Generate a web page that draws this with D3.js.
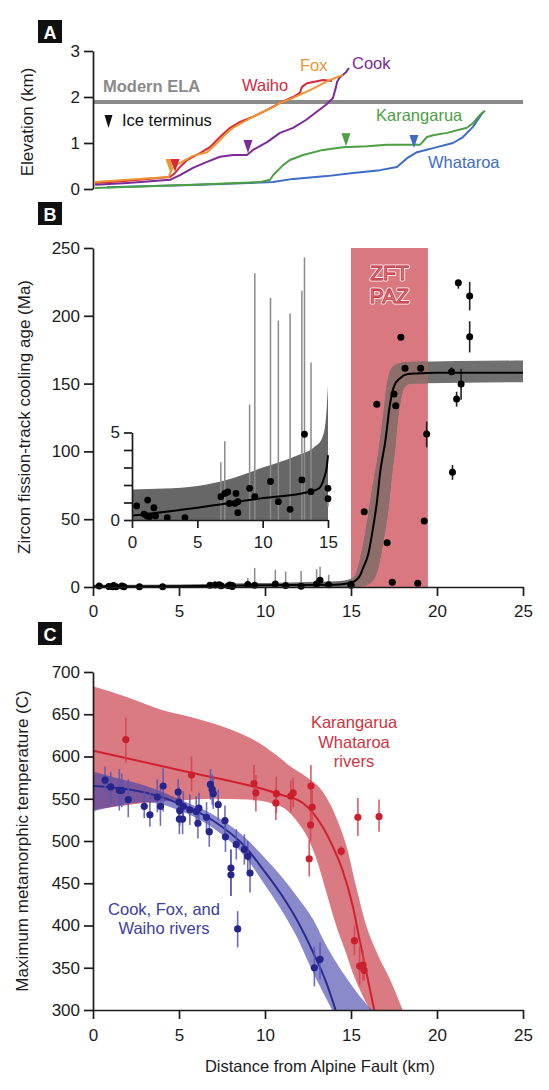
<!DOCTYPE html>
<html><head><meta charset="utf-8">
<script src="https://cdn.jsdelivr.net/npm/d3@7"></script>
<style>
body{margin:0;background:#fff;}
svg{display:block;}
</style></head><body>
<svg id="chart" width="549" height="1090"></svg>
<script>
// ================= DATA =================
const distTicks = [0, 5, 10, 15, 20, 25];
const elevTicks = [0, 1, 2, 3];
const ageTicks = [0, 50, 100, 150, 200, 250];
const insetXTicks = [0, 5, 10, 15];
const insetYTicks = [0, 1, 2, 3, 4, 5];
const insetYLabels = [0, 5];
const tempTicks = [300, 350, 400, 450, 500, 550, 600, 650, 700];

// Panel A: river long profiles (distance km, elevation km)
const riverNames = ["Fox", "Waiho", "Cook", "Karangarua", "Whataroa"];
const foxX = [0.12, 2, 4.4, 4.6, 5.06, 5.81, 6.63, 7.21, 7.79, 8.14, 8.95, 9.71, 10.47, 10.87, 11.63, 12.62, 13.78, 14.53];
const foxY = [0.15, 0.2, 0.26, 0.45, 0.57, 0.72, 0.80, 1.0, 1.22, 1.33, 1.5, 1.65, 1.78, 1.87, 1.98, 2.15, 2.37, 2.48];
const waihoX = [0.12, 2, 4.48, 4.77, 5.06, 5.47, 5.81, 6.22, 6.80, 7.38, 7.97, 8.55, 9.30, 10.12, 10.87, 11.63, 12.03, 12.15, 12.44, 13.37, 13.90];
const waihoY = [0.13, 0.18, 0.26, 0.35, 0.48, 0.63, 0.70, 0.78, 0.91, 1.13, 1.33, 1.46, 1.57, 1.72, 1.87, 2.0, 2.09, 2.22, 2.30, 2.37, 2.35];
const cookX = [0.12, 2, 4.48, 5.06, 5.81, 6.63, 7.38, 8.14, 8.95, 9.30, 10.12, 10.87, 11.63, 12.38, 12.97, 13.55, 13.95, 14.13, 14.19, 14.36, 14.71, 14.88];
const cookY = [0.09, 0.13, 0.20, 0.30, 0.46, 0.59, 0.70, 0.74, 0.74, 0.85, 1.02, 1.22, 1.33, 1.5, 1.67, 1.83, 1.98, 2.22, 2.33, 2.43, 2.54, 2.63];
const karX = [0.12, 5.81, 9.71, 10.29, 10.47, 11.05, 11.45, 12.21, 13.37, 14.53, 15.93, 17.09, 19.01, 19.42, 19.77, 20.58, 21.74, 22.09, 22.5, 22.79];
const karY = [0.02, 0.09, 0.15, 0.2, 0.3, 0.52, 0.63, 0.74, 0.85, 0.91, 0.93, 0.96, 0.96, 1.13, 1.17, 1.22, 1.33, 1.43, 1.61, 1.70];
const whaX = [0.81, 6.22, 10.47, 11.63, 13.6, 15.12, 16.69, 17.67, 18.26, 18.84, 20.0, 20.93, 21.51, 22.09, 22.67];
const whaY = [0.04, 0.09, 0.15, 0.22, 0.28, 0.35, 0.41, 0.48, 0.67, 0.80, 0.91, 1.0, 1.13, 1.35, 1.67];
const terminusX = [4.48, 4.77, 9.01, 14.71, 18.66];   // Fox, Waiho, Cook, Karangarua, Whataroa
const terminusY = [0.37, 0.37, 0.78, 0.93, 0.89];
const modernELA = 1.89;

// Panel B: zircon fission-track ages
const pazRange = [15, 19.47];
const fitX = [0, 5, 10, 14, 14.7, 15, 15.5, 15.7, 16, 16.3, 16.5, 16.7, 17, 17.27, 17.5, 17.85, 18.3, 18.8, 20, 25];
const fitY = [0.3, 0.6, 1.3, 1.7, 2.4, 3, 8, 14, 24, 45, 62, 85, 108, 135, 148, 154, 157, 157.5, 158, 158];
const bandUpX = [0, 5, 10, 13, 14.5, 15.0, 15.3, 15.6, 15.9, 16.2, 16.6, 16.9, 17.1, 17.3, 17.6, 18.2, 25];
const bandUpY = [1.7, 1.9, 3.0, 3.8, 4.6, 6, 10, 25, 45, 70, 100, 130, 150, 160, 164, 166, 167];
const bandLoX = [0, 15, 15.8, 16.3, 16.6, 16.9, 17.2, 17.4, 17.55, 17.7, 17.9, 18.1, 18.5, 25];
const bandLoY = [0, 0, 1, 5, 15, 35, 60, 85, 100, 120, 138, 147, 150, 151];
const lowX = [0.36, 0.92, 1.2, 1.15, 1.33, 1.68, 1.8, 2.7, 4.05, 6.8, 7.1, 7.33, 7.45, 7.96, 7.88, 8.1, 8.1, 9.0, 9.4, 10.6, 11.2, 12.1, 13.0, 13.2, 13.7, 15.0, 15.0];
const lowY = [0.8, 0.34, 1.14, 0.23, 0.19, 0.7, 0.23, 0.13, 0.13, 1.33, 1.52, 1.6, 0.95, 1.52, 0.95, 1.05, 0.42, 1.81, 1.33, 2.2, 1.05, 0.61, 2.29, 4.9, 1.62, 1.81, 1.22];
const lowErrX = [6.8, 7.1, 9.0, 9.4, 10.6, 11.2, 12.1, 13.0, 13.2, 13.7, 15.0];
const lowErrLo = [0, 0, 0, 0, 0, 0, 0, 0, 0, 0, 0.76];
const lowErrHi = [3.3, 4.5, 6.6, 14.1, 12.7, 11.4, 11.8, 13.1, 15.0, 9.0, 1.22];
const highX = [15.77, 16.5, 17.1, 17.4, 17.5, 17.6, 17.9, 18.14, 18.88, 19.05, 19.26, 19.4, 20.85, 20.9, 21.14, 21.24, 21.4, 21.9, 21.9];
const highY = [55.5, 134.8, 32.7, 3.5, 142.3, 133.7, 184.1, 161.3, 2.7, 161.3, 48.7, 112.8, 158.8, 84.6, 138.6, 224.4, 149.7, 214.6, 184.6];
const highLo = [55.5, 134.8, 32.7, 3.5, 142.3, 133.7, 184.1, 161.3, 2.7, 161.3, 48.7, 103, 157, 79, 133, 220, 138, 204, 173];
const highHi = [55.5, 134.8, 32.7, 3.5, 142.3, 133.7, 184.1, 161.3, 2.7, 161.3, 48.7, 122, 162, 90, 144, 226, 161, 225, 196];
// inset fit and band
const insetFitX = [0, 5, 10, 13.5, 14.3, 14.7, 14.9, 15];
const insetFitY = [0.25, 0.7, 1.25, 1.6, 1.8, 2.4, 3.0, 3.7];
const insetBandX = [0, 2.5, 5, 7.5, 10, 12.5, 14, 14.5, 14.8, 15];
const insetBandY = [1.75, 1.8, 1.95, 2.35, 3.0, 3.65, 4.2, 4.6, 5.5, 7.7];

// Panel C: maximum metamorphic temperature
const redFitX = [0, 5, 10.9, 12.2, 12.8, 13.4, 13.95, 14.5, 15.1, 15.5, 15.9, 16.35];
const redFitY = [607, 584, 555, 545, 533, 515, 493, 466, 423, 383, 344, 300];
const redUpX = [0, 2, 4, 6, 8, 9.5, 10.5, 11.5, 12.4, 13.4, 14.2, 14.75, 15.3, 15.9, 16.5, 17.27, 18.0];
const redUpY = [683, 670, 655, 645, 632, 618, 604, 588, 576, 557, 525, 493, 446, 399, 368, 336, 300];
const redLoX = [0, 1.5, 3, 5, 7, 9, 10.9, 11.8, 12.4, 13.0, 13.57, 14.15, 14.7, 15.1, 15.6, 16.1];
const redLoY = [537, 541, 545, 548, 550, 549, 541, 525, 507, 478, 439, 399, 368, 344, 320, 300];
const blueFitX = [0, 3.1, 5.04, 7.0, 8.9, 9.9, 10.87, 11.84, 12.8, 13.57, 14.1];
const blueFitY = [565, 557, 544, 524, 492, 466, 439, 407, 368, 332, 300];
const blueUpX = [0, 1.5, 3.1, 5.04, 7.0, 8.9, 9.9, 10.87, 11.84, 12.8, 13.57, 14.5, 15.3, 16.2];
const blueUpY = [582, 574, 565, 549, 531, 503, 482, 460, 435, 407, 376, 345, 322, 300];
const blueLoX = [0, 1.5, 3.1, 5.04, 7.0, 8.9, 9.9, 10.87, 11.84, 12.8, 13.57, 13.9];
const blueLoY = [535, 542, 546, 536, 515, 480, 451, 421, 387, 344, 313, 300];
const redPtX = [1.91, 5.73, 9.36, 9.47, 10.66, 10.63, 11.5, 11.64, 12.67, 12.74, 12.65, 12.57, 14.43, 15.4, 16.63, 15.2, 15.5, 15.7, 15.76];
const redPtY = [620, 578, 568, 557, 556, 545, 553, 557, 565, 540, 519, 479, 488, 528, 529, 382, 352, 353, 347];
const redPtLo = [593, 559, 548, 535, 533, 525, 535, 540, 545, 520, 500, 458, 482, 506, 511, 365, 330, 335, 335];
const redPtHi = [646, 600, 590, 578, 576, 562, 572, 575, 590, 560, 540, 501, 494, 551, 549, 400, 375, 370, 360];
const bluePtX = [0.70, 1.03, 1.53, 1.67, 2.05, 2.98, 3.31, 3.74, 3.92, 4.08, 4.95, 5.0, 5.04, 5.02, 5.25, 5.21, 5.63, 6.0, 6.1, 6.16, 6.6, 6.76, 6.83, 6.93, 6.99, 7.28, 7.67, 7.7, 8.33, 8.8, 9.0, 8.02, 8.02, 9.13, 8.41, 12.87, 13.2];
const bluePtY = [572, 564, 560, 560, 549, 541, 531, 552, 541, 565, 558, 546, 536, 526, 541, 526, 537, 535, 521, 539, 528, 511, 567, 561, 556, 543, 524, 505, 496, 490, 482, 468, 460, 462, 396, 350, 360];
const bluePtLo = [557, 545, 536, 540, 528, 527, 517, 534, 518, 535, 545, 528, 518, 508, 523, 508, 519, 517, 503, 521, 510, 493, 549, 543, 538, 525, 506, 487, 478, 472, 464, 435, 435, 439, 374, 328, 336];
const bluePtHi = [588, 582, 585, 580, 573, 562, 557, 573, 565, 586, 573, 564, 554, 544, 559, 544, 555, 553, 539, 557, 546, 529, 585, 579, 574, 561, 542, 523, 514, 508, 500, 490, 490, 478, 417, 375, 380];

// ================= DRAWING =================
const FONT = '"Liberation Sans", Arial, Helvetica, sans-serif';
const svg = d3.select("#chart").attr("font-family", FONT);
const zip = (xs, ys) => xs.map((x, i) => [x, ys[i]]);
const fmtInt = d3.format("d");

const xA = d3.scaleLinear([0, 25], [93, 523]);
const yA = d3.scaleLinear([0, 3], [189, 51]);
const xB = d3.scaleLinear([0, 25], [93, 523]);
const yB = d3.scaleLinear([0, 250], [587, 248]);
const xI = d3.scaleLinear([0, 15], [132, 328]);
const yI = d3.scaleLinear([0, 5], [520, 432.5]);
const xC = d3.scaleLinear([0, 25], [93, 523]);
const yC = d3.scaleLinear([300, 700], [1010, 672]);

function styleAxis(g) {
  g.attr("font-family", FONT).attr("font-size", 17);
  g.selectAll("path, line").attr("stroke", "#1c1c1c").attr("stroke-width", 1.7);
  g.selectAll("text").attr("fill", "#1c1c1c");
}
function panelLabel(letter, y) {
  svg.append("rect").attr("x", 38).attr("y", y).attr("width", 24).attr("height", 23).attr("fill", "#111");
  svg.append("text").attr("x", 50).attr("y", y + 18.5).attr("text-anchor", "middle")
    .attr("font-size", 18).attr("font-weight", "bold").attr("fill", "#fff").text(letter);
}
function yTitle(txt, x, y, size) {
  svg.append("text").attr("transform", `translate(${x},${y}) rotate(-90)`)
    .attr("text-anchor", "middle").attr("font-size", size).attr("fill", "#1c1c1c").text(txt);
}
function bandPath(xs, ys, upX, upY, loX, loY, curve) {
  const ln = d3.line().x(d => xs(d[0])).y(d => ys(d[1])).curve(curve || d3.curveMonotoneX);
  const up = ln(zip(upX, upY));
  const lo = ln(zip(loX, loY).reverse());
  return up + "L" + lo.slice(1) + "Z";
}

// ---------- Panel A ----------
panelLabel("A", 20);
const riverColors = {Fox: "#ea9530", Waiho: "#d8283a", Cook: "#7d2a98", Karangarua: "#4c9f42", Whataroa: "#3d6cc7"};
svg.append("line").attr("x1", xA(0)).attr("x2", xA(25)).attr("y1", yA(modernELA)).attr("y2", yA(modernELA))
  .attr("stroke", "#8a8a8a").attr("stroke-width", 4);
const riverData = {Fox: zip(foxX, foxY), Waiho: zip(waihoX, waihoY), Cook: zip(cookX, cookY), Karangarua: zip(karX, karY), Whataroa: zip(whaX, whaY)};
const lineA = d3.line().x(d => xA(d[0])).y(d => yA(d[1]));
["Whataroa", "Karangarua", "Cook", "Waiho", "Fox"].forEach(r => {
  svg.append("path").attr("d", lineA(riverData[r])).attr("fill", "none")
    .attr("stroke", riverColors[r]).attr("stroke-width", 2).attr("stroke-linejoin", "round");
});
riverNames.forEach((r, i) => {
  const x = xA(terminusX[i]), y = yA(terminusY[i]);
  svg.append("path").attr("d", `M${x - 4.5},${y - 13}L${x + 4.5},${y - 13}L${x},${y}Z`).attr("fill", riverColors[r]);
});
const gA = svg.append("g").attr("transform", "translate(93,0)")
  .call(d3.axisLeft(yA).tickValues(elevTicks).tickFormat(fmtInt).tickSize(9).tickPadding(4).tickSizeOuter(0));
styleAxis(gA);
yTitle("Elevation (km)", 33, 122, 17);
svg.append("text").attr("x", 103).attr("y", 92).attr("font-size", 16.5).attr("font-weight", "bold")
  .attr("fill", "#8a8a8a").text("Modern ELA");
svg.append("path").attr("d", "M104.5,115L112.5,115L108.5,128Z").attr("fill", "#111");
svg.append("text").attr("x", 122).attr("y", 126).attr("font-size", 16.5).attr("fill", "#111").text("Ice terminus");
const labA = [["Waiho", 242, 91], ["Fox", 300, 71], ["Cook", 352, 69], ["Karangarua", 376, 121], ["Whataroa", 428, 168]];
labA.forEach(([t, x, y]) => svg.append("text").attr("x", x).attr("y", y).attr("font-size", 16.5).attr("fill", riverColors[t]).text(t));

// ---------- Panel B ----------
panelLabel("B", 202);
svg.append("defs").append("clipPath").attr("id", "pazClip").append("rect")
  .attr("x", xB(pazRange[0])).attr("y", yB(250)).attr("width", xB(pazRange[1]) - xB(pazRange[0])).attr("height", yB(0) - yB(250));
svg.append("rect").attr("x", xB(pazRange[0])).attr("y", yB(250)).attr("width", xB(pazRange[1]) - xB(pazRange[0]))
  .attr("height", yB(0) - yB(250)).attr("fill", "#d9787f");
const bandB = bandPath(xB, yB, bandUpX, bandUpY, bandLoX, bandLoY);
svg.append("path").attr("d", bandB).attr("fill", "#707070");
svg.append("path").attr("d", bandB).attr("fill", "#8e6e6a").attr("clip-path", "url(#pazClip)");
// ZFT PAZ label
[["ZFT", 280], ["PAZ", 303]].forEach(([t, y]) => {
  svg.append("text").attr("x", 389.5).attr("y", y).attr("text-anchor", "middle").attr("font-size", 21)
    .attr("fill", "#d9787f").attr("stroke", "#fde4e6").attr("stroke-width", 3).attr("stroke-linejoin", "round").text(t);
  svg.append("text").attr("x", 389.5).attr("y", y).attr("text-anchor", "middle").attr("font-size", 21)
    .attr("fill", "#de8088").attr("stroke", "#c0303e").attr("stroke-width", 0.8).text(t);
});
// low-age error bars in main panel
lowErrX.forEach((x, i) => svg.append("line").attr("x1", xB(x)).attr("x2", xB(x)).attr("y1", yB(lowErrLo[i])).attr("y2", yB(lowErrHi[i]))
  .attr("stroke", "#8a8a8a").attr("stroke-width", 1.5));
highX.forEach((x, i) => { if (highHi[i] > highLo[i]) svg.append("line").attr("x1", xB(x)).attr("x2", xB(x))
  .attr("y1", yB(highLo[i])).attr("y2", yB(highHi[i])).attr("stroke", "#222").attr("stroke-width", 1.6); });
svg.append("path").attr("d", d3.line().x(d => xB(d[0])).y(d => yB(d[1])).curve(d3.curveMonotoneX)(zip(fitX, fitY)))
  .attr("fill", "none").attr("stroke", "#000").attr("stroke-width", 2);
zip(lowX, lowY).concat(zip(highX, highY)).forEach(d => svg.append("circle").attr("cx", xB(d[0])).attr("cy", yB(d[1]))
  .attr("r", 3.5).attr("fill", "#000"));
const gBx = svg.append("g").attr("transform", `translate(0,${yB(0)})`)
  .call(d3.axisBottom(xB).tickValues(distTicks).tickSize(9).tickPadding(9).tickSizeOuter(0));
styleAxis(gBx);
const gBy = svg.append("g").attr("transform", `translate(${xB(0)},0)`)
  .call(d3.axisLeft(yB).tickValues(ageTicks).tickSize(9).tickPadding(4).tickSizeOuter(0));
styleAxis(gBy);
yTitle("Zircon fission-track cooling age (Ma)", 30, 417, 17);

// Inset
svg.append("path").attr("d", d3.area().x(d => xI(d[0])).y0(yI(0)).y1(d => yI(d[1])).curve(d3.curveMonotoneX)(zip(insetBandX, insetBandY)))
  .attr("fill", "#676767");
lowErrX.forEach((x, i) => svg.append("line").attr("x1", xI(x)).attr("x2", xI(x)).attr("y1", yI(lowErrLo[i])).attr("y2", yI(lowErrHi[i]))
  .attr("stroke", "#8a8a8a").attr("stroke-width", 1.5));
svg.append("path").attr("d", d3.line().x(d => xI(d[0])).y(d => yI(d[1])).curve(d3.curveMonotoneX)(zip(insetFitX, insetFitY)))
  .attr("fill", "none").attr("stroke", "#000").attr("stroke-width", 2);
zip(lowX, lowY).forEach(d => svg.append("circle").attr("cx", xI(d[0])).attr("cy", yI(d[1])).attr("r", 3.4).attr("fill", "#000"));
const gIx = svg.append("g").attr("transform", `translate(0,${yI(0)})`)
  .call(d3.axisBottom(xI).tickValues(insetXTicks).tickSize(8).tickPadding(8).tickSizeOuter(0));
styleAxis(gIx);
const gIy = svg.append("g").attr("transform", `translate(${xI(0)},0)`)
  .call(d3.axisLeft(yI).tickValues(insetYTicks).tickSize(8).tickPadding(4).tickSizeOuter(0)
    .tickFormat(d => insetYLabels.includes(d) ? d : ""));
styleAxis(gIy);

// ---------- Panel C ----------
panelLabel("C", 622);
svg.append("path").attr("d", bandPath(xC, yC, redUpX, redUpY, redLoX, redLoY)).attr("fill", "#da7a82");
svg.append("path").attr("d", bandPath(xC, yC, blueUpX, blueUpY, blueLoX, blueLoY)).attr("fill", "#3c3ca8").attr("opacity", 0.6);
const lineC = d3.line().x(d => xC(d[0])).y(d => yC(d[1])).curve(d3.curveMonotoneX);
svg.append("path").attr("d", lineC(zip(redFitX, redFitY))).attr("fill", "none").attr("stroke", "#d0222e").attr("stroke-width", 2);
svg.append("path").attr("d", lineC(zip(blueFitX, blueFitY))).attr("fill", "none").attr("stroke", "#2b2b92").attr("stroke-width", 2);
redPtX.forEach((x, i) => svg.append("line").attr("x1", xC(x)).attr("x2", xC(x)).attr("y1", yC(redPtLo[i])).attr("y2", yC(redPtHi[i]))
  .attr("stroke", "#d5424e").attr("stroke-width", 1.6).attr("opacity", 0.85));
bluePtX.forEach((x, i) => svg.append("line").attr("x1", xC(x)).attr("x2", xC(x)).attr("y1", yC(bluePtLo[i])).attr("y2", yC(bluePtHi[i]))
  .attr("stroke", "#5656b8").attr("stroke-width", 1.6).attr("opacity", 0.85));
redPtX.forEach((x, i) => svg.append("circle").attr("cx", xC(x)).attr("cy", yC(redPtY[i])).attr("r", 3.6).attr("fill", "#cc1f2d"));
bluePtX.forEach((x, i) => svg.append("circle").attr("cx", xC(x)).attr("cy", yC(bluePtY[i])).attr("r", 3.6).attr("fill", "#25258c"));
const gCx = svg.append("g").attr("transform", `translate(0,${yC(300)})`)
  .call(d3.axisBottom(xC).tickValues(distTicks).tickSize(9).tickPadding(10).tickSizeOuter(0));
styleAxis(gCx);
const gCy = svg.append("g").attr("transform", `translate(${xC(0)},0)`)
  .call(d3.axisLeft(yC).tickValues(tempTicks).tickSize(9).tickPadding(4).tickSizeOuter(0));
styleAxis(gCy);
yTitle("Maximum metamorphic temperature (C)", 28, 841, 17);
svg.append("text").attr("x", 320).attr("y", 1072).attr("text-anchor", "middle").attr("font-size", 16.5)
  .attr("fill", "#1c1c1c").text("Distance from Alpine Fault (km)");
[["Karangarua", 728], ["Whataroa", 748], ["rivers", 767]].forEach(([t, y]) =>
  svg.append("text").attr("x", 354).attr("y", y).attr("text-anchor", "middle").attr("font-size", 16.5).attr("fill", "#cf3440").text(t));
[["Cook, Fox, and", 915], ["Waiho rivers", 934]].forEach(([t, y]) =>
  svg.append("text").attr("x", 164).attr("y", y).attr("text-anchor", "middle").attr("font-size", 16.5).attr("fill", "#3c3ca6").text(t));
</script>
</body></html>
